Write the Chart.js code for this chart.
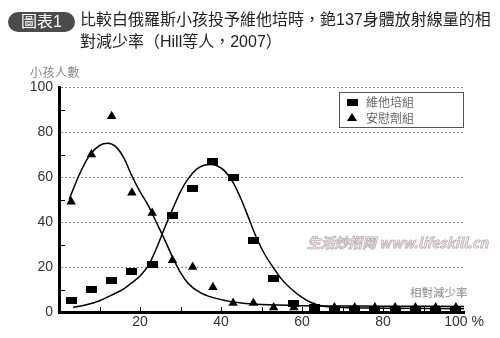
<!DOCTYPE html>
<html lang="zh-Hant">
<head>
<meta charset="UTF-8">
<title>Cs-137 relative reduction</title>
<script src="https://cdn.jsdelivr.net/npm/chart.js"></script>
<style>
  body { margin: 0; background: #fff; }
  .wrap { position: relative; width: 500px; height: 338px; overflow: hidden; }
  canvas { position: absolute; left: 0; top: 0; }
  .badge {
    position: absolute; left: 8px; top: 12px; width: 67px; height: 20px;
    background: #4b4b4b; border-radius: 10px; color: #fff;
    font: 16px "Liberation Sans", "Noto Sans CJK TC", sans-serif;
    line-height: 20px; text-align: center;
  }
  .title {
    position: absolute; left: 80px; top: 9px; width: 420px;
    font: 16px "Liberation Sans", "Noto Sans CJK TC", sans-serif;
    line-height: 22px; color: #222;
  }
  .ylab {
    position: absolute; left: 30px; top: 63px;
    font: 12px "Noto Sans CJK TC", sans-serif; color: #888; letter-spacing: 0.5px;
  }
  .xlab {
    position: absolute; left: 410px; top: 284px;
    font: 11.5px "Noto Sans CJK TC", sans-serif; color: #888;
  }
</style>
</head>
<body>
<div class="wrap">
  <canvas id="chart" width="500" height="338"></canvas>
  <div class="badge">圖表1</div>
  <div class="title">比較白俄羅斯小孩投予維他培時，銫137身體放射線量的相<br>對減少率（Hill等人，2007）</div>
  <div class="ylab">小孩人數</div>
  <div class="xlab">相對減少率</div>
</div>
<script>
// 相對減少率 (%), centres of the 5% classes
const binX = [3, 8, 13, 18, 23, 28, 33, 38, 43, 48, 53, 58, 63, 68, 73, 78, 83, 88, 93, 98];
const vitaminCounts = [5, 10, 14, 18, 21, 43, 55, 67, 60, 32, 15, 4, 2, 1, 1, 1, 1, 1, 1, 1];
const placeboCounts = [49, 70, 87, 53, 44, 23, 20, 11, 4, 4, 2, 2, 2, 2, 2, 2, 2, 2, 2, 2];

// fitted curves
const vitaminCurveX = [3.5, 7, 10, 13, 16, 18, 20, 22, 24, 26, 28, 30, 32, 34, 36, 37.5, 39, 41, 43, 45, 47, 49, 51, 53, 55, 57.5, 60, 62.5, 65, 70, 80, 100];
const vitaminCurveY = [2, 3.3, 5, 7.5, 10.3, 13, 16, 20.5, 28, 37, 45.5, 53.5, 59.5, 63.5, 65.3, 65.6, 65, 62.5, 57.5, 50, 41, 32, 25, 19.5, 14.5, 10, 6.5, 4, 2.7, 2, 1.7, 1.5];
const placeboCurveX = [2.5, 5, 7.5, 10, 12, 14, 16, 18, 20, 22, 24, 26, 28, 30, 32, 35, 40, 45, 50, 60, 80, 100];
const placeboCurveY = [50, 61, 69.5, 74, 75, 73.5, 68.5, 60.5, 53.5, 47.5, 40, 32.5, 24.5, 17.5, 12.5, 8.5, 5.5, 4, 3.3, 2.8, 2.6, 2.5];

const yTicks = [0, 20, 40, 60, 80, 100];
const xTicks = [0, 20, 40, 60, 80, 100];
const seriesNames = ['維他培組', '安慰劑組'];
const watermark = '生活妙招网 www.lifeskill.cn';

const pts = (xs, ys) => xs.map((x, i) => ({ x: x, y: ys[i] }));

// flat black bar used as the marker of the vitamin group
const barMark = document.createElement('canvas');
barMark.width = 11; barMark.height = 7;
barMark.getContext('2d').fillRect(0, 0, 11, 7);

const extras = {
  id: 'extras',
  beforeDatasetsDraw(chart) {
    const { ctx, chartArea: a, scales: { x, y } } = chart;
    ctx.save();
    ctx.strokeStyle = '#000';
    ctx.lineWidth = 1;
    ctx.beginPath();
    for (let v = 10; v < 100; v += 20) {
      const py = Math.round(y.getPixelForValue(v)) + 0.5;
      ctx.moveTo(a.left, py); ctx.lineTo(a.left + 6, py);
    }
    for (let v = 10; v <= 90; v += 10) {
      const px = Math.round(x.getPixelForValue(v)) + 0.5;
      ctx.moveTo(px, a.bottom); ctx.lineTo(px, a.bottom - 5);
    }
    ctx.stroke();

    // watermark, squeezed to the width it has in the original
    ctx.font = 'italic bold 14px "Noto Sans CJK SC", "Liberation Sans", sans-serif';
    ctx.textBaseline = 'middle';
    const w = ctx.measureText(watermark).width;
    ctx.translate(307, 243);
    ctx.scale(181 / w, 1);
    ctx.fillStyle = '#f4ecec';
    ctx.strokeStyle = '#bcaeae';
    ctx.lineWidth = 0.8;
    ctx.fillText(watermark, 0, 0);
    ctx.strokeText(watermark, 0, 0);
    ctx.restore();
  },
  afterDraw(chart) {
    const ctx = chart.ctx;
    ctx.save();
    ctx.fillStyle = '#fff';
    ctx.fillRect(339, 92, 124, 35);
    ctx.strokeStyle = '#555';
    ctx.lineWidth = 1;
    ctx.strokeRect(339.5, 92.5, 124, 35);
    ctx.drawImage(barMark, 347, 99);
    ctx.fillStyle = '#000';
    ctx.beginPath();
    ctx.moveTo(352, 113); ctx.lineTo(357, 121); ctx.lineTo(347, 121);
    ctx.closePath(); ctx.fill();
    ctx.font = '12px "Noto Sans CJK TC", sans-serif';
    ctx.fillStyle = '#666';
    ctx.textBaseline = 'middle';
    ctx.fillText(seriesNames[0], 366, 102);
    ctx.fillText(seriesNames[1], 366, 118);
    ctx.restore();
  }
};

new Chart(document.getElementById('chart'), {
  type: 'scatter',
  data: {
    datasets: [
      {
        label: seriesNames[0] + ' fit',
        data: pts(vitaminCurveX, vitaminCurveY),
        showLine: true, borderColor: '#000', borderWidth: 1.5,
        pointRadius: 0, cubicInterpolationMode: 'monotone'
      },
      {
        label: seriesNames[1] + ' fit',
        data: pts(placeboCurveX, placeboCurveY),
        showLine: true, borderColor: '#000', borderWidth: 1.5,
        pointRadius: 0, cubicInterpolationMode: 'monotone'
      },
      {
        label: seriesNames[0],
        data: pts(binX, vitaminCounts),
        pointStyle: barMark
      },
      {
        label: seriesNames[1],
        data: pts(binX, placeboCounts),
        pointStyle: 'triangle', pointRadius: 5.5,
        backgroundColor: '#000', borderColor: '#000', borderWidth: 0
      }
    ]
  },
  plugins: [extras],
  options: {
    responsive: false,
    animation: false,
    layout: { padding: { top: 87, right: 36, left: 0, bottom: 0 } },
    plugins: { legend: { display: false }, tooltip: { enabled: false } },
    scales: {
      x: {
        type: 'linear', min: 0, max: 100,
        afterFit: s => { s.height = 26; },
        afterBuildTicks: s => { s.ticks = xTicks.map(v => ({ value: v })); },
        ticks: {
          color: '#333', padding: 2,
          font: { family: '"Liberation Sans", sans-serif', size: 14 },
          callback: v => v === 0 ? '' : (v === 100 ? '100 %' : v)
        },
        grid: { drawOnChartArea: false, drawTicks: false },
        border: { color: '#000', width: 3 }
      },
      y: {
        min: 0, max: 100,
        afterFit: s => { s.width = 59; },
        afterBuildTicks: s => { s.ticks = yTicks.map(v => ({ value: v })); },
        ticks: {
          color: '#333', padding: 6,
          font: { family: '"Liberation Sans", sans-serif', size: 14 }
        },
        grid: {
          drawTicks: false, lineWidth: 1,
          color: c => c.tick && c.tick.value === 0 ? 'rgba(0,0,0,0)' : '#888'
        },
        border: { color: '#000', width: 3, dash: [2, 2] }
      }
    }
  }
});
</script>
</body>
</html>
